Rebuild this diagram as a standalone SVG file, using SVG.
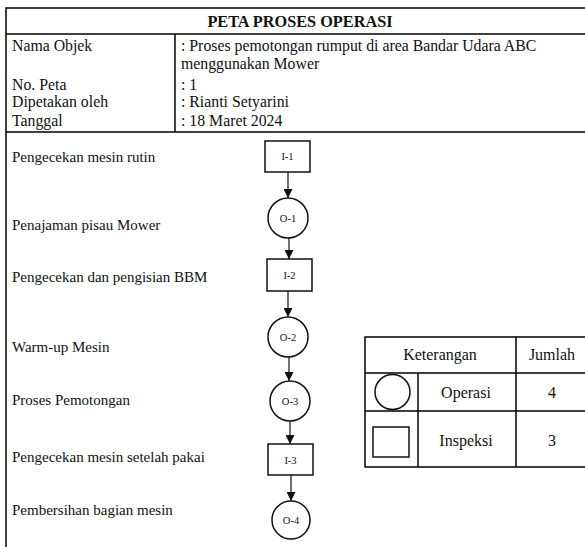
<svg xmlns="http://www.w3.org/2000/svg" width="585" height="547" viewBox="0 0 585 547">
  <style>
    .frame { fill: none; stroke: #000; stroke-width: 1.5; }
    .shape { fill: #fff; stroke: #111; stroke-width: 1.5; }
    .t { font-family: "Liberation Serif", "Times New Roman", serif; fill: #111; }
    .hd { font-size: 15.8px; }
    .lb { font-size: 15px; }
    .nd { font-size: 10.5px; text-anchor: middle; }
    .lg { font-size: 16px; text-anchor: middle; }
    .title { font-size: 16.3px; font-weight: bold; text-anchor: middle; }
    .conn { stroke: #111; stroke-width: 1.2; fill: none; marker-end: url(#arrow); }
  </style>
  <defs>
    <marker id="arrow" viewBox="0 0 10 10" refX="10" refY="5" markerUnits="userSpaceOnUse" markerWidth="9" markerHeight="9" orient="auto">
      <path d="M0,0 L10,5 L0,10 Z" fill="#111"/>
    </marker>
  </defs>

  <rect width="585" height="547" fill="#fff"/>

  <!-- header block -->
  <g id="header">
    <rect class="frame" x="6" y="8" width="590" height="560"/>
    <line class="frame" x1="6" y1="34" x2="590" y2="34"/>
    <line class="frame" x1="175" y1="34" x2="175" y2="132"/>
    <line class="frame" x1="6" y1="132" x2="590" y2="132"/>
    <text class="t title" x="300" y="27">PETA PROSES OPERASI</text>
    <text class="t hd" x="12" y="51">Nama Objek</text>
    <text class="t hd" x="181" y="51">: Proses pemotongan rumput di area Bandar Udara ABC</text>
    <text class="t hd" x="181" y="69">menggunakan Mower</text>
    <text class="t hd" x="12" y="90">No. Peta</text>
    <text class="t hd" x="181" y="90">: 1</text>
    <text class="t hd" x="12" y="107">Dipetakan oleh</text>
    <text class="t hd" x="181" y="107">: Rianti Setyarini</text>
    <text class="t hd" x="12" y="126">Tanggal</text>
    <text class="t hd" x="181" y="126">: 18 Maret 2024</text>
  </g>

  <!-- step descriptions -->
  <g id="labels">
    <text class="t lb" x="12" y="162">Pengecekan mesin rutin</text>
    <text class="t lb" x="12" y="230">Penajaman pisau Mower</text>
    <text class="t lb" x="12" y="282">Pengecekan dan pengisian BBM</text>
    <text class="t lb" x="12" y="352">Warm-up Mesin</text>
    <text class="t lb" x="12" y="405">Proses Pemotongan</text>
    <text class="t lb" x="12" y="462">Pengecekan mesin setelah pakai</text>
    <text class="t lb" x="12" y="515">Pembersihan bagian mesin</text>
  </g>

  <!-- connectors -->
  <g id="connectors">
    <line class="conn" x1="288" y1="172" x2="288" y2="198"/>
    <line class="conn" x1="289" y1="238" x2="289" y2="259"/>
    <line class="conn" x1="288" y1="291" x2="288" y2="317"/>
    <line class="conn" x1="289" y1="357" x2="289" y2="381"/>
    <line class="conn" x1="290" y1="421" x2="290" y2="444"/>
    <line class="conn" x1="291" y1="475" x2="291" y2="501"/>
  </g>

  <g id="I-1">
    <rect class="shape" x="265" y="141" width="45" height="31"/>
    <text class="t nd" x="287.5" y="160">I-1</text>
  </g>
  <g id="O-1">
    <circle class="shape" cx="288" cy="218" r="20"/>
    <text class="t nd" x="288" y="221.5">O-1</text>
  </g>
  <g id="I-2">
    <rect class="shape" x="267" y="259" width="45" height="32"/>
    <text class="t nd" x="289.5" y="278.5">I-2</text>
  </g>
  <g id="O-2">
    <circle class="shape" cx="288" cy="337" r="20"/>
    <text class="t nd" x="288" y="340.5">O-2</text>
  </g>
  <g id="O-3">
    <circle class="shape" cx="290" cy="401" r="20"/>
    <text class="t nd" x="290" y="404.5">O-3</text>
  </g>
  <g id="I-3">
    <rect class="shape" x="268" y="444" width="45" height="31"/>
    <text class="t nd" x="290.5" y="463.5">I-3</text>
  </g>
  <g id="O-4">
    <circle class="shape" cx="291" cy="520" r="19"/>
    <text class="t nd" x="291" y="523.5">O-4</text>
  </g>

  <!-- legend table -->
  <g id="legend">
    <rect class="frame" x="365" y="337" width="230" height="130"/>
    <line class="frame" x1="516" y1="337" x2="516" y2="467"/>
    <line class="frame" x1="418" y1="373" x2="418" y2="467"/>
    <line class="frame" x1="365" y1="373" x2="590" y2="373"/>
    <line class="frame" x1="365" y1="411" x2="590" y2="411"/>
    <text class="t lg" x="440" y="360">Keterangan</text>
    <text class="t lg" x="552" y="360">Jumlah</text>
    <circle class="shape" cx="392.5" cy="392" r="17.5"/>
    <text class="t lg" x="466" y="398">Operasi</text>
    <text class="t lg" x="552" y="398">4</text>
    <rect class="shape" x="373" y="427" width="36" height="30"/>
    <text class="t lg" x="466" y="446">Inspeksi</text>
    <text class="t lg" x="552" y="446">3</text>
  </g>
</svg>
